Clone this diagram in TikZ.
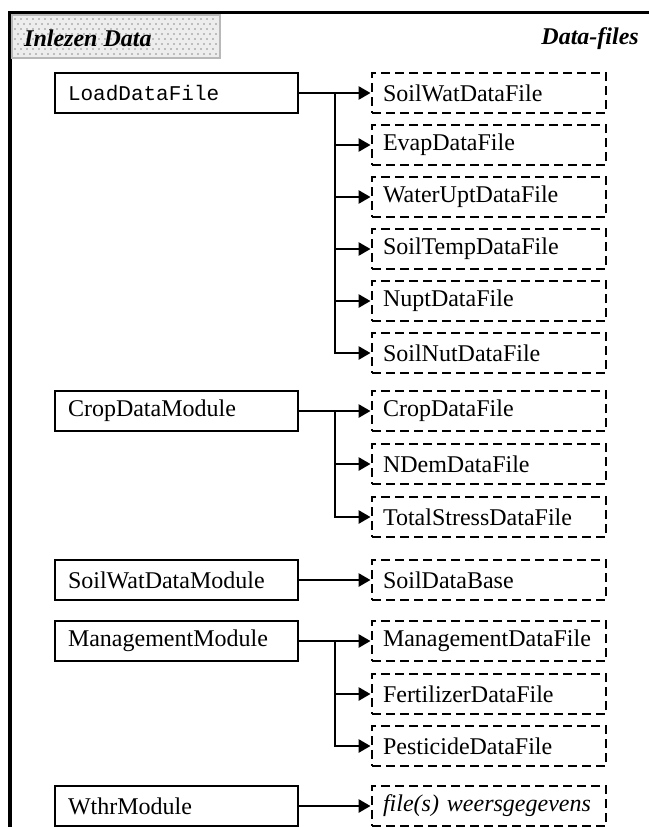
\documentclass[tikz,border=0pt]{standalone}
\usepackage{fontspec}
\setmainfont{Liberation Serif}
\setmonofont{Liberation Mono}
\usetikzlibrary{arrows.meta}
\definecolor{hdrfill}{gray}{0.93}
\definecolor{hdrline}{gray}{0.72}
\definecolor{dotc}{gray}{0.55}
\tikzset{
  modbox/.style={draw, line width=1.9pt, minimum height=40pt, text width=217pt,
    inner xsep=13pt, inner ysep=0pt, align=left, font=\fontsize{24}{28}\selectfont},
  filebox/.style={draw, line width=2.9pt, dash pattern=on 9pt off 5pt, minimum height=40pt,
    text width=212pt, inner xsep=11pt, inner ysep=0pt, align=left, font=\fontsize{24}{28}\selectfont},
  conn/.style={line width=2.7pt, -{Triangle[length=12pt,width=13pt]}},
  hdrtext/.style={font=\fontsize{24}{28}\selectfont\bfseries\itshape, inner sep=0pt},
}
\begin{document}
\begin{tikzpicture}[x=1pt,y=-1pt]
\useasboundingbox (0,0) rectangle (648,827);
% frame
\draw[line width=3.4pt] (10,827) -- (10,12.5) -- (650,12.5);
% header box
\node[draw=hdrline, fill=hdrfill, line width=1.3pt, minimum width=208pt, minimum height=43pt, inner sep=0pt] (hdr) at (116,36.5) {};
\foreach \j in {0,...,7}{\foreach \i in {0,...,33}{\fill[dotc] ({15+6*\i+3*mod(\j,2)},{19+5*\j}) circle (0.8pt);}}
\node[hdrtext, anchor=base west] (inl) at (24,46) {Inlezen Data};
\node[hdrtext, anchor=base east] (df) at (639,44) {Data-files};

% module boxes
\node[modbox, font=\ttfamily\fontsize{21}{24}\selectfont] (load) at (176.5,93) {LoadDataFile};
\node[modbox] (crop) at (176.5,411) {CropDataModule};
\node[modbox] (swm) at (176.5,580) {SoilWatDataModule};
\node[modbox] (mgm) at (176.5,641) {ManagementModule};
\node[modbox] (wthr) at (176.5,806) {WthrModule};

% file boxes
\node[filebox] (f1) at (489,93) {SoilWatDataFile};
\node[filebox] (f2) at (489,145) {EvapDataFile};
\node[filebox] (f3) at (489,197) {WaterUptDataFile};
\node[filebox] (f4) at (489,249) {SoilTempDataFile};
\node[filebox] (f5) at (489,301) {NuptDataFile};
\node[filebox] (f6) at (489,353) {SoilNutDataFile};
\node[filebox] (c1) at (489,411) {CropDataFile};
\node[filebox] (c2) at (489,464) {NDemDataFile};
\node[filebox] (c3) at (489,517) {TotalStressDataFile};
\node[filebox] (s1) at (489,580) {SoilDataBase};
\node[filebox] (m1) at (489,641) {ManagementDataFile};
\node[filebox] (m2) at (489,694) {FertilizerDataFile};
\node[filebox] (m3) at (489,746) {PesticideDataFile};
\node[filebox] (w1) at (489,806) {\itshape file(s) weersgegevens};

% junctions
\coordinate (jl) at ([xshift=36pt]load.east);
\coordinate (jc) at ([xshift=36pt]crop.east);
\coordinate (jm) at ([xshift=36pt]mgm.east);

% connectors
\draw[conn] (load.east) -- (f1.west);
\foreach \t in {f2,f3,f4,f5,f6}{\draw[conn] (jl) |- (\t.west);}
\draw[conn] (crop.east) -- (c1.west);
\foreach \t in {c2,c3}{\draw[conn] (jc) |- (\t.west);}
\draw[conn] (swm.east) -- (s1.west);
\draw[conn] (mgm.east) -- (m1.west);
\foreach \t in {m2,m3}{\draw[conn] (jm) |- (\t.west);}
\draw[conn] (wthr.east) -- (w1.west);
\end{tikzpicture}
\end{document}
